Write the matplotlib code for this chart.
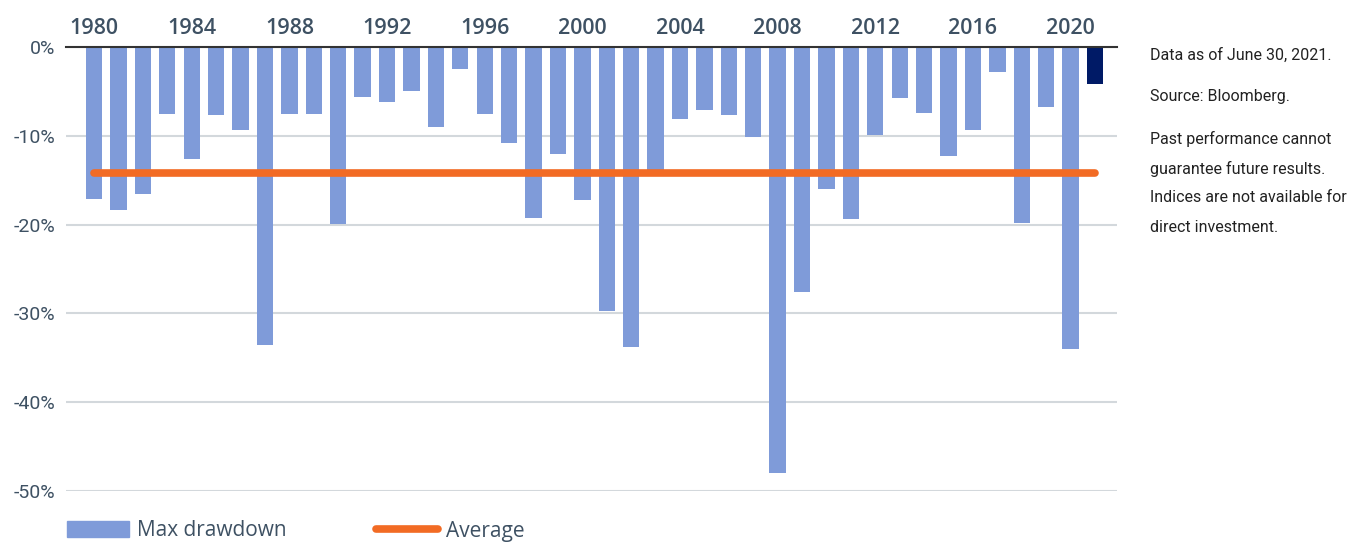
import matplotlib
matplotlib.use("Agg")
import matplotlib.pyplot as plt
from matplotlib import font_manager
from matplotlib.patches import Patch
from matplotlib.lines import Line2D

years = list(range(1980, 2022))
max_drawdown = [-17.1, -18.4, -16.5, -7.5, -12.6, -7.7, -9.4, -33.6, -7.6, -7.5,
                -19.9, -5.6, -6.2, -5.0, -9.0, -2.5, -7.6, -10.8, -19.3, -12.1,
                -17.2, -29.7, -33.8, -13.9, -8.1, -7.1, -7.7, -10.1, -48.0, -27.6,
                -16.0, -19.4, -9.9, -5.7, -7.4, -12.3, -9.3, -2.8, -19.8, -6.8,
                -34.0, -4.2]
average = -14.2
tick_years = list(range(1980, 2021, 4))
y_ticks = [0, -10, -20, -30, -40, -50]
note_lines = ["Data as of June 30, 2021.", "Source: Bloomberg.",
              "Past performance cannot", "guarantee future results.",
              "Indices are not available for", "direct investment."]

avail = {f.name for f in font_manager.fontManager.ttflist}
narrow = "Liberation Sans Narrow" if "Liberation Sans Narrow" in avail else "Roboto"
main = "Open Sans" if "Open Sans" in avail else "DejaVu Sans"

BAR = "#7f9bd9"
LAST = "#001a66"
ORANGE = "#f26b24"
SLATE = "#3e5163"

fig = plt.figure(figsize=(13.57, 5.44), dpi=100)
ax = fig.add_axes([66/1357, 1-491/544, (1117-66)/1357, (491-47)/544])

x = list(range(len(years)))
colors = [BAR]*(len(years)-1) + [LAST]
ax.bar(x, max_drawdown, width=0.67, color=colors, zorder=2)
ax.plot([0, len(years)-1], [average, average], color=ORANGE, lw=5.5,
        solid_capstyle="round", zorder=3)

ax.set_xlim(-1.15, 41.9)
ax.set_ylim(-50, 0)
ax.set_yticks(y_ticks)
ax.set_yticklabels([f"{v}%" for v in y_ticks], family=[narrow, "DejaVu Sans"],
                   fontsize=14, color=SLATE)
ax.yaxis.grid(True, color="#d3d8dc", lw=1.5, zorder=0)
ax.tick_params(axis="y", length=0, pad=8)

ax.xaxis.tick_top()
ax.set_xticks([years.index(y) for y in tick_years])
ax.set_xticklabels([str(y) for y in tick_years], family=[main, "DejaVu Sans"],
                   fontsize=15.5, color=SLATE, fontweight="semibold")
ax.tick_params(axis="x", length=0, pad=6)

for s in ["left", "right", "bottom"]:
    ax.spines[s].set_visible(False)
ax.spines["top"].set_color("#333333")
ax.spines["top"].set_linewidth(1.5)
ax.spines["top"].set_zorder(4)

handles = [Patch(color=BAR), Line2D([0], [0], color=ORANGE, lw=5.5, solid_capstyle="round")]
fig.legend(handles, ["Max drawdown", "Average"], loc="center left",
           bbox_to_anchor=(48/1357, 13/544), ncol=2, frameon=False,
           prop={"family": [main, "DejaVu Sans"], "size": 15},
           handlelength=3.0, handletextpad=0.35, columnspacing=4.3,
           labelcolor=SLATE, handleheight=0.8)

ys = [55, 97, 139, 169, 198, 227]
for t, yy in zip(note_lines, ys):
    fig.text(1150/1357, 1-yy/544, t, ha="left", va="center",
             family=[narrow, "DejaVu Sans"], fontsize=11.5, color="#222222")

fig.savefig("out.png", dpi=100)
